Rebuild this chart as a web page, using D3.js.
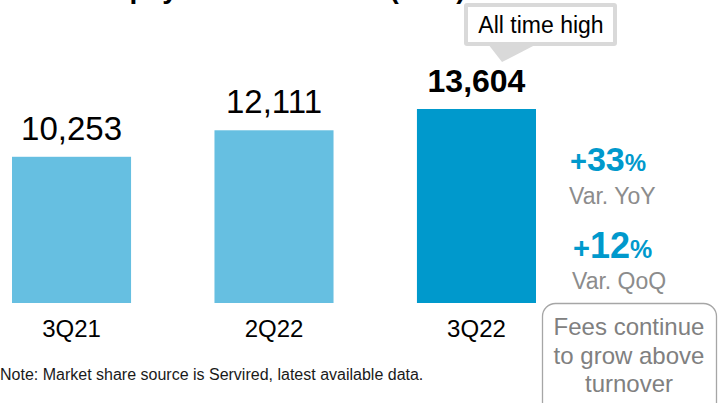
<!DOCTYPE html>
<html>
<head>
<meta charset="utf-8">
<script src="https://cdn.jsdelivr.net/npm/d3@7"></script>
<style>
  html, body { margin: 0; padding: 0; background: #fff; }
  svg { display: block; font-family: "Liberation Sans", Arial, sans-serif; }
</style>
</head>
<body>
<svg id="chart" width="719" height="403"></svg>
<script>
// Quarterly card payments turnover
const quarters = ["3Q21", "2Q22", "3Q22"];
const turnover = [10253, 12111, 13604];
const highlight = [false, false, true];

// Growth call-outs
const growthValues = ["33", "12"];
const growthLabels = ["Var. YoY", "Var. QoQ"];

const titleText = "Card payments turnover (€mn)";
const badgeText = "All time high";
const boxLines = ["Fees continue", "to grow above", "turnover"];
const noteText = "Note: Market share source is Servired, latest available data.";

const svg = d3.select("#chart");
const fmt = d3.format(",");

const lightBlue = "#66bfe1";
const darkBlue = "#0099cc";

const x = d3.scaleBand()
  .domain(quarters)
  .range([12, 536])
  .paddingInner(0.412)
  .paddingOuter(0);

const y = d3.scaleLinear()
  .domain([0, d3.max(turnover)])
  .range([303, 109]);

const data = quarters.map((q, i) => ({ q, v: turnover[i], hi: highlight[i] }));

// Title (runs above the visible frame)
svg.append("text")
  .attr("x", 58).attr("y", -2)
  .attr("font-size", 28).attr("font-weight", "bold")
  .attr("fill", "#000")
  .text(titleText);

// Bars
svg.append("g").selectAll("rect")
  .data(data).join("rect")
  .attr("x", d => x(d.q))
  .attr("width", x.bandwidth())
  .attr("y", d => y(d.v))
  .attr("height", d => y(0) - y(d.v))
  .attr("fill", d => d.hi ? darkBlue : lightBlue);

// Value labels
svg.append("g").selectAll("text")
  .data(data).join("text")
  .attr("x", d => x(d.q) + x.bandwidth() / 2)
  .attr("y", d => y(d.v) - 17)
  .attr("text-anchor", "middle")
  .attr("font-size", d => d.hi ? 32 : 33)
  .attr("font-weight", d => d.hi ? "bold" : "normal")
  .attr("fill", "#000")
  .text(d => fmt(d.v));

// Category axis labels
const xAxis = d3.axisBottom(x).tickSize(0).tickPadding(0);
const gx = svg.append("g").attr("transform", "translate(0,320)").call(xAxis);
gx.select(".domain").remove();
gx.selectAll("text")
  .attr("font-family", "Liberation Sans, Arial, sans-serif")
  .attr("font-size", 24)
  .attr("fill", "#000")
  .attr("dy", "0.71em");

// "All time high" badge with pointer toward the latest bar
const badge = svg.append("g");
badge.append("path")
  .attr("d", "M488,44 L537,44 L502,62 Z")
  .attr("fill", "#d9d9d9");
badge.append("rect")
  .attr("x", 464).attr("y", 3).attr("width", 153).attr("height", 43)
  .attr("rx", 3).attr("fill", "#d9d9d9");
badge.append("rect")
  .attr("x", 468).attr("y", 7).attr("width", 145).attr("height", 35)
  .attr("fill", "#fff");
badge.append("text")
  .attr("x", 541).attr("y", 33)
  .attr("text-anchor", "middle")
  .attr("font-size", 23)
  .attr("fill", "#000")
  .text(badgeText);

// Growth figures
const growthPos = [
  { x: 570, y: 171, yl: 204, big: 34, plus: 29, pct: 24 },
  { x: 573, y: 258, yl: 289, big: 36, plus: 29, pct: 25 }
];
growthValues.forEach((g, i) => {
  const p = growthPos[i];
  const t = svg.append("text")
    .attr("x", p.x).attr("y", p.y)
    .attr("font-weight", "bold")
    .attr("fill", darkBlue);
  t.append("tspan").attr("font-size", p.plus).text("+");
  t.append("tspan").attr("font-size", p.big).text(g);
  t.append("tspan").attr("font-size", p.pct).text("%");
  svg.append("text")
    .attr("x", p.x - 1).attr("y", p.yl)
    .attr("font-size", 23)
    .attr("fill", "#8c8c8c")
    .text(growthLabels[i]);
});

// Rounded note box
svg.append("rect")
  .attr("x", 542.5).attr("y", 303.5).attr("width", 174).attr("height", 112)
  .attr("rx", 13)
  .attr("fill", "none")
  .attr("stroke", "#a6a6a6")
  .attr("stroke-width", 1.3);
svg.append("g").selectAll("text")
  .data(boxLines).join("text")
  .attr("x", 629)
  .attr("y", (d, i) => 335 + i * 28.5)
  .attr("text-anchor", "middle")
  .attr("font-size", 24)
  .attr("fill", "#808080")
  .text(d => d);

// Footnote
svg.append("text")
  .attr("x", 0).attr("y", 380)
  .attr("font-size", 16)
  .attr("fill", "#1a1a1a")
  .text(noteText);
</script>
</body>
</html>
